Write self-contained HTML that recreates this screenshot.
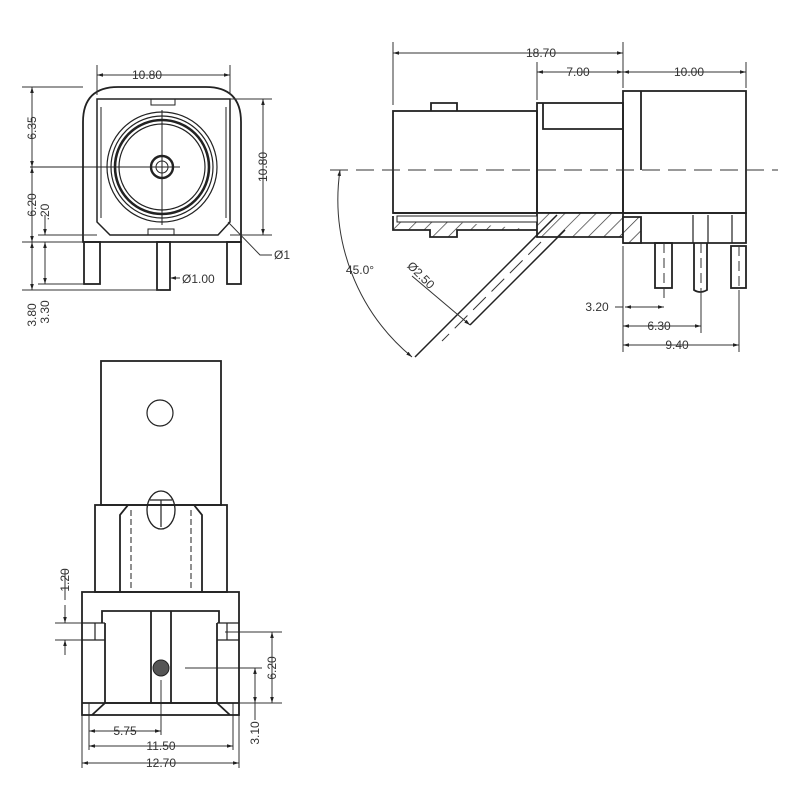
<!DOCTYPE html>
<html><head><meta charset="utf-8"><style>
html,body{margin:0;padding:0;background:#fff}
svg{display:block}
text{font-family:"Liberation Sans",sans-serif;font-size:12px;fill:#333}
</style></head><body>
<svg width="800" height="800" viewBox="0 0 800 800" xmlns="http://www.w3.org/2000/svg">
<defs>
<pattern id="h" width="11" height="11" patternUnits="userSpaceOnUse" patternTransform="rotate(45)">
<rect width="11" height="11" fill="#fff"/><line x1="0" y1="0" x2="0" y2="11" stroke="#333" stroke-width="1.4"/></pattern>
<marker id="a" viewBox="0 0 10 10" refX="10" refY="5" markerWidth="6" markerHeight="6" orient="auto-start-reverse"><path d="M0,2 L10,5 L0,8z" fill="#222"/></marker>
</defs>
<g fill="none" stroke="#222" stroke-width="1.8">
<!-- FRONT VIEW -->
<path d="M83,242 V122 Q83,87 118,87 H206 Q241,87 241,122 V242 Z"/>
<path d="M97,99 H230 V222 L218,235 H110 L97,222 Z" stroke-width="1.5"/>
<path d="M101,107 L101,218 M226,107 V218" stroke-width="1"/>
<rect x="151" y="99" width="24" height="6" stroke-width="1"/>
<rect x="148" y="229" width="26" height="6" stroke-width="1"/>
<circle cx="162" cy="167" r="55" stroke-width="1.2"/>
<circle cx="162" cy="167" r="51" stroke-width="1.2"/>
<circle cx="162" cy="167" r="47" stroke-width="2.6"/>
<circle cx="162" cy="167" r="43" stroke-width="1.2"/>
<circle cx="162" cy="167" r="11" stroke-width="2.4"/>
<circle cx="162" cy="167" r="6" stroke-width="1"/>
<line x1="162" y1="110" x2="162" y2="225" stroke-width="1"/>
<line x1="30" y1="167" x2="180" y2="167" stroke-width="1"/>
<rect x="84" y="242" width="16" height="42"/>
<rect x="157" y="242" width="13" height="48"/>
<rect x="227" y="242" width="14" height="42"/>
<!-- SIDE VIEW -->
<rect x="393" y="111" width="144" height="102"/>
<path d="M431,111 V103 H457 V111"/>
<rect x="537" y="103" width="86" height="110"/>
<path d="M543,103 V129 H623"/>
<rect x="623" y="91" width="123" height="122"/>
<line x1="641" y1="91" x2="641" y2="170"/>
<path d="M393,213 H746 V243 H623"/>
<path d="M393,216 V230 H430 V237 H457 V230 H537" fill="url(#h)"/>
<path d="M537,230 V237 H623 V213 H537 V230" fill="url(#h)"/>
<path d="M623,217 H641 V243 H623Z" fill="url(#h)"/>
<rect x="397" y="216" width="140" height="6" fill="#fff" stroke-width="1"/>
<path d="M693,215 V243 M708,215 V243 M732,215 V243" stroke-width="1.2"/>
<rect x="655" y="243" width="17" height="45"/>
<path d="M694,243 V290 Q700,294 707,290 V243"/>
<rect x="731" y="246" width="15" height="42"/>
<path d="M557,215 L415,357 M565,230 L470,325" stroke-width="1.5"/>
</g>
<g stroke="#333" stroke-width="1" fill="none">
<line x1="330" y1="170" x2="778" y2="170" stroke-dasharray="18,8"/>
<line x1="541" y1="242" x2="442" y2="341" stroke-dasharray="18,8"/>
<path d="M664,243 V300 M701,243 V300 M739,246 V300" stroke-dasharray="10,5"/>
<path d="M340,170 A205,205 0 0 0 412,357" marker-start="url(#a)" marker-end="url(#a)"/>
<line x1="412" y1="276" x2="470" y2="325" marker-end="url(#a)"/>
<path d="M393,105 V42 M623,88 V42 M537,100 V62 M746,88 V62"/>
<line x1="393" y1="53" x2="623" y2="53" marker-start="url(#a)" marker-end="url(#a)"/>
<line x1="537" y1="72" x2="623" y2="72" marker-start="url(#a)" marker-end="url(#a)"/>
<line x1="623" y1="72" x2="746" y2="72" marker-start="url(#a)" marker-end="url(#a)"/>
<path d="M623,246 V352 M739,290 V352 M701,295 V333"/>
<line x1="615" y1="307" x2="623" y2="307"/>
<line x1="625" y1="307" x2="664" y2="307" marker-start="url(#a)" marker-end="url(#a)"/>
<line x1="623" y1="326" x2="701" y2="326" marker-start="url(#a)" marker-end="url(#a)"/>
<line x1="623" y1="345" x2="739" y2="345" marker-start="url(#a)" marker-end="url(#a)"/>
<path d="M97,95 V65 M230,95 V65 M22,87 H83 M230,99 H272 M230,235 H272 M22,242 H83 M22,290 H160 M38,235 H97 M38,284 H84"/>
<line x1="97" y1="75" x2="230" y2="75" marker-start="url(#a)" marker-end="url(#a)"/>
<line x1="263" y1="99" x2="263" y2="235" marker-start="url(#a)" marker-end="url(#a)"/>
<line x1="32" y1="87" x2="32" y2="167" marker-start="url(#a)" marker-end="url(#a)"/>
<line x1="32" y1="167" x2="32" y2="242" marker-start="url(#a)" marker-end="url(#a)"/>
<line x1="32" y1="242" x2="32" y2="290" marker-start="url(#a)" marker-end="url(#a)"/>
<line x1="45" y1="215" x2="45" y2="235" marker-end="url(#a)"/>
<line x1="45" y1="242" x2="45" y2="284" marker-start="url(#a)" marker-end="url(#a)"/>
<path d="M228,222 L260,255 H272"/>
<line x1="180" y1="278" x2="170" y2="278" marker-end="url(#a)"/>
<path d="M82,715 V768 M239,715 V768 M89,703 V750 M233,703 V750 M161,680 V735"/>
<line x1="89" y1="731" x2="161" y2="731" marker-start="url(#a)" marker-end="url(#a)"/>
<line x1="89" y1="746" x2="233" y2="746" marker-start="url(#a)" marker-end="url(#a)"/>
<line x1="82" y1="763" x2="239" y2="763" marker-start="url(#a)" marker-end="url(#a)"/>
<path d="M225,632 H282 M225,703 H282 M185,668 H262"/>
<line x1="272" y1="632" x2="272" y2="703" marker-start="url(#a)" marker-end="url(#a)"/>
<line x1="255" y1="668" x2="255" y2="703" marker-start="url(#a)" marker-end="url(#a)"/>
<line x1="255" y1="703" x2="255" y2="720"/>
<path d="M55,623 H84 M55,640 H84"/>
<line x1="65" y1="605" x2="65" y2="623" marker-end="url(#a)"/>
<line x1="65" y1="655" x2="65" y2="640" marker-end="url(#a)"/>
<line x1="65" y1="570" x2="65" y2="600"/>
</g>
<g fill="none" stroke="#222" stroke-width="1.8">
<rect x="101" y="361" width="120" height="144"/>
<circle cx="160" cy="413" r="13" stroke-width="1.2"/>
<rect x="95" y="505" width="132" height="87"/>
<path d="M120,592 V515 L128,505 M202,592 V515 L194,505"/>
<path d="M131,510 V592 M191,510 V592" stroke-width="1" stroke-dasharray="6,3"/>
<ellipse cx="161" cy="510" rx="14" ry="19" stroke-width="1.3"/>
<path d="M150,500 H172 M161,500 V527" stroke-width="1.2"/>
<rect x="82" y="592" width="157" height="123"/>
<path d="M102,623 V611 H219 V623"/>
<path d="M105,623 V703 H217 V623"/>
<path d="M151,611 V703 M171,611 V703"/>
<path d="M82,623 H105 M82,640 H105 M217,623 H239 M217,640 H239 M95,623 V640 M227,623 V640" stroke-width="1.2"/>
<path d="M82,703 H239 M105,703 L92,715 M217,703 L230,715"/>
<circle cx="161" cy="668" r="8" fill="#555" stroke-width="1"/>
</g>
<text x="147" y="79" text-anchor="middle">10.80</text>
<text x="541" y="57" text-anchor="middle">18.70</text>
<text x="578" y="76" text-anchor="middle">7.00</text>
<text x="689" y="76" text-anchor="middle">10.00</text>
<text x="597" y="311" text-anchor="middle">3.20</text>
<text x="659" y="330" text-anchor="middle">6.30</text>
<text x="677" y="349" text-anchor="middle">9.40</text>
<text x="360" y="274" text-anchor="middle">45.0°</text>
<text transform="translate(418,278) rotate(45)" text-anchor="middle">Ø2.50</text>
<text x="274" y="259">Ø1</text>
<text x="182" y="283">Ø1.00</text>
<text transform="translate(36,128) rotate(-90)" text-anchor="middle">6.35</text>
<text transform="translate(36,205) rotate(-90)" text-anchor="middle">6.20</text>
<text transform="translate(49,212) rotate(-90)" text-anchor="middle">.20</text>
<text transform="translate(36,315) rotate(-90)" text-anchor="middle">3.80</text>
<text transform="translate(49,312) rotate(-90)" text-anchor="middle">3.30</text>
<text transform="translate(267,167) rotate(-90)" text-anchor="middle">10.80</text>
<text transform="translate(69,580) rotate(-90)" text-anchor="middle">1.20</text>
<text transform="translate(276,668) rotate(-90)" text-anchor="middle">6.20</text>
<text transform="translate(259,733) rotate(-90)" text-anchor="middle">3.10</text>
<text x="125" y="735" text-anchor="middle">5.75</text>
<text x="161" y="750" text-anchor="middle">11.50</text>
<text x="161" y="767" text-anchor="middle">12.70</text>
</svg>
</body></html>
